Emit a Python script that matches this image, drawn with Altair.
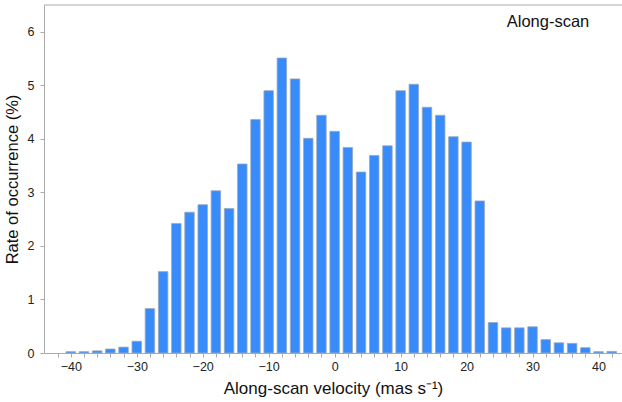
import altair as alt
import pandas as pd

velocity = list(range(-40, 43, 2))
rate = [0.025, 0.025, 0.04, 0.075, 0.11, 0.22, 0.83, 1.52, 2.42, 2.63, 2.77, 3.03,
        2.70, 3.53, 4.36, 4.90, 5.51, 5.12, 4.01, 4.44, 4.14, 3.84, 3.38, 3.69,
        3.87, 4.90, 5.02, 4.59, 4.44, 4.04, 3.94, 2.84, 0.57, 0.47, 0.47, 0.49,
        0.25, 0.19, 0.18, 0.10, 0.025, 0.03]
tick_values = list(range(-42, 43, 2))
panel_label = ["Along-scan"]

df = pd.DataFrame({"v": velocity, "r": rate})

W, H = 578, 348
FONT = "Liberation Sans"

bars = alt.Chart(df).mark_bar(
    size=9.5, color="#378bfa", stroke="#9aa8bd", strokeWidth=0.8
).encode(
    x=alt.X("v:Q", scale=alt.Scale(domain=[-43.3, 42.8], nice=False, zero=False),
            axis=alt.Axis(values=tick_values,
                          labelExpr="datum.value % 10 == 0 ? datum.label : ''",
                          title="Along-scan velocity (mas s⁻¹)",
                          grid=False, tickSize=4, labelPadding=3,
                          domainColor="#aaaaaa", tickColor="#aaaaaa",
                          labelFont=FONT, labelFontSize=12.5, labelColor="#222222",
                          titleFont=FONT, titleFontSize=17, titleFontWeight="normal",
                          titleColor="#111111", titlePadding=8, labelFlush=False)),
    y=alt.Y("r:Q", scale=alt.Scale(domain=[0, 6.5], nice=False),
            axis=alt.Axis(values=[0, 1, 2, 3, 4, 5, 6], format="d",
                          title="Rate of occurrence (%)",
                          grid=False, tickSize=4, labelPadding=6,
                          domainColor="#aaaaaa", tickColor="#aaaaaa",
                          labelFont=FONT, labelFontSize=12.5, labelColor="#222222",
                          titleFont=FONT, titleFontSize=16.5, titleFontWeight="normal",
                          titleColor="#111111", titlePadding=7)),
)

top_line = alt.Chart(pd.DataFrame({"a": [0]})).mark_rule(color="#aaaaaa", strokeWidth=1).encode(
    x=alt.value(0), x2=alt.value(W), y=alt.value(0)
)

label = alt.Chart(pd.DataFrame({"t": panel_label})).mark_text(
    font=FONT, fontSize=16.5, color="#111111", align="center", baseline="middle"
).encode(text="t:N", x=alt.value(504), y=alt.value(17))

chart = alt.layer(bars, top_line, label).properties(
    width=W, height=H,
    autosize=alt.AutoSizeParams(type="none"),
    padding={"left": 44, "top": 5, "right": 0, "bottom": 49},
).configure_view(stroke=None)

chart.save("out.html", embed_options={"renderer": "svg", "actions": False})
